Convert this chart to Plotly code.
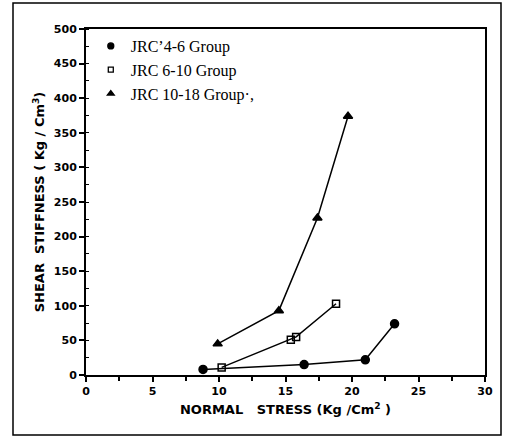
import plotly.graph_objects as go

names = ["JRC\u20194-6 Group", "JRC 6-10 Group", "JRC 10-18 Group\u00b7,"]
x_jrc4_6 = [8.8, 16.4, 21.0, 23.2]
y_jrc4_6 = [8, 15, 22, 74]
x_jrc6_10 = [10.2, 15.4, 15.8, 18.8]
y_jrc6_10 = [11, 51, 55, 103]
x_jrc10_18 = [9.9, 14.5, 17.4, 19.7]
y_jrc10_18 = [45, 93, 227, 374]
x_ticks = [0, 5, 10, 15, 20, 25, 30]
y_ticks = [0, 50, 100, 150, 200, 250, 300, 350, 400, 450, 500]

series = [
    (x_jrc4_6, y_jrc4_6, "circle", 8),
    (x_jrc6_10, y_jrc6_10, "square-open", 7),
    (x_jrc10_18, y_jrc10_18, "triangle-up", 8),
]

fig = go.Figure()
for (xs, ys, sym, sz), nm in zip(series, names):
    fig.add_trace(go.Scatter(x=xs, y=ys, mode="lines+markers", showlegend=False,
                             line=dict(color="black", width=1.5),
                             marker=dict(symbol=sym, size=sz,
                                         color="black", line=dict(width=1.5, color="black"))))
for (xs, ys, sym, sz), nm in zip(series, names):
    fig.add_trace(go.Scatter(x=[None], y=[None], mode="markers", name=nm,
                             marker=dict(symbol=sym, size=6 if sym != "square-open" else 5,
                                         color="black", line=dict(width=1.3, color="black"))))

bold_sans = dict(family="DejaVu Sans", color="black", weight="bold")
fig.update_layout(
    width=507, height=440,
    margin=dict(l=86, r=22, t=29, b=65),
    plot_bgcolor="white", paper_bgcolor="white",
    showlegend=True,
    legend=dict(x=0.012, y=1.0, xanchor="left", yanchor="top",
                font=dict(family="Liberation Serif", size=16, color="black"),
                bgcolor="rgba(0,0,0,0)", itemsizing="trace", tracegroupgap=0,
                itemwidth=30),
    xaxis=dict(range=[0, 30], tickvals=x_ticks, ticktext=[str(v) for v in x_ticks],
               showgrid=False, zeroline=False, showline=True, linecolor="black", linewidth=2,
               mirror=True, ticks="outside", ticklen=5, tickwidth=1.5, tickcolor="black",
               minor=dict(dtick=2.5, ticks="outside", ticklen=4, tickcolor="black", tickwidth=1.5),
               tickfont=dict(size=11, **bold_sans),
               title=dict(text="NORMAL   STRESS (Kg /Cm<sup>2</sup> )", standoff=8,
                          font=dict(size=13, **bold_sans))),
    yaxis=dict(range=[0, 500], tickvals=y_ticks, ticktext=[str(v) for v in y_ticks],
               showgrid=False, zeroline=False, showline=True, linecolor="black", linewidth=2,
               mirror=True, ticks="outside", ticklen=5, tickwidth=1.5, tickcolor="black",
               minor=dict(dtick=25, ticks="inside", ticklen=3, tickcolor="black", tickwidth=1),
               tickfont=dict(size=11, **bold_sans),
               title=dict(text="SHEAR  STIFFNESS ( Kg / Cm<sup>3</sup>)", standoff=6,
                          font=dict(size=13, **bold_sans))),
)
fig.add_shape(type="rect", xref="paper", yref="paper",
              x0=-73/399, x1=(501-86)/399, y0=-(435-375)/346, y1=(375-3)/346,
              line=dict(color="black", width=1.5))
fig.write_html("out.html")
